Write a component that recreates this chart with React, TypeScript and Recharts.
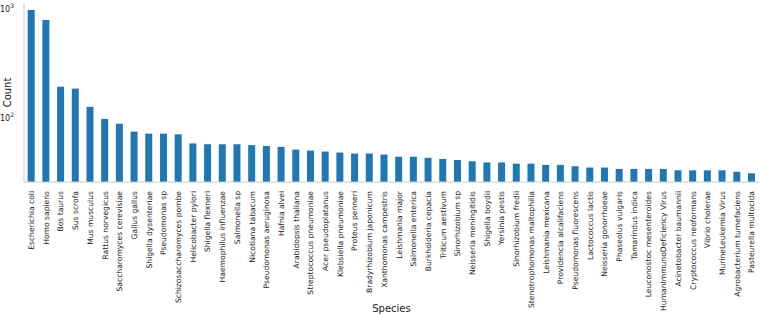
import React from 'react';
import { BarChart, Bar, XAxis, YAxis } from 'recharts';

const species = [
  'Escherichia coli', 'Homo sapiens', 'Bos taurus', 'Sus scrofa', 'Mus musculus',
  'Rattus norvegicus', 'Saccharomyces cerevisiae', 'Gallus gallus', 'Shigella dysenteriae',
  'Pseudomonas sp', 'Schizosaccharomyces pombe', 'Helicobacter pylori', 'Shigella flexneri',
  'Haemophilus influenzae', 'Salmonella sp', 'Nicotiana tabacum', 'Pseudomonas aeruginosa',
  'Hafnia alvei', 'Arabidopsis thaliana', 'Streptococcus pneumoniae', 'Acer pseudoplatanus',
  'Klebsiella pneumoniae', 'Proteus penneri', 'Bradyrhizobium japonicum',
  'Xanthomonas campestris', 'Leishmania major', 'Salmonella enterica', 'Burkholderia cepacia',
  'Triticum aestivum', 'Sinorhizobium sp', 'Neisseria meningitidis', 'Shigella boydii',
  'Yersinia pestis', 'Sinorhizobium fredii', 'Stenotrophomonas maltophilia',
  'Leishmania mexicana', 'Providencia alcalifaciens', 'Pseudomonas fluorescens',
  'Lactococcus lactis', 'Neisseria gonorrhoeae', 'Phaseolus vulgaris', 'Tamarindus indica',
  'Leuconostoc mesenteroides', 'HumanImmunoDeficiency Virus', 'Acinetobacter baumannii',
  'Cryptococcus neoformans', 'Vibrio cholerae', 'MurineLeukemia Virus',
  'Agrobacterium tumefaciens', 'Pasteurella multocida',
];

const counts = [
  869, 711, 187, 180, 125, 98, 89, 76, 73, 73, 72, 60, 59, 59, 59, 58, 57, 56, 53, 52,
  51, 50, 49, 49, 48, 46, 46, 45, 44, 43, 42, 41, 41, 40, 40, 39, 39, 38, 37, 37,
  36, 36, 36, 36, 35, 35, 35, 35, 34, 33,
];

const yTicks = [100, 1000];

const data = species.map((name, i) => ({ name, count: counts[i] }));

const FONT = "'DejaVu Sans', sans-serif";
const SPINE = '#cccccc';
const INK = '#1a1a1a';

const XTick = ({ x, y, payload }: any) => (
  <g transform={`translate(${x}, ${y + 1}) rotate(-90)`}>
    <text
      x={0}
      y={0}
      textAnchor="end"
      dy="0.35em"
      style={{ fontFamily: FONT, fontSize: '7.6px' }}
      fill={INK}
    >
      {payload.value}
    </text>
  </g>
);

const YTick = ({ x, y, payload }: any) => (
  <text x={x - 2} y={y + 3} textAnchor="end" style={{ fontFamily: FONT, fontSize: '8px' }} fill={INK}>
    10
    <tspan dy={-4} style={{ fontSize: '6px' }}>
      {Math.round(Math.log10(payload.value))}
    </tspan>
  </text>
);

export default function App() {
  return (
    <div style={{ position: 'absolute', left: 0, top: 0, background: '#fff' }}>
      <BarChart
        width={761}
        height={314}
        data={data}
        margin={{ top: 3, right: 2, left: 0, bottom: 0 }}
        barCategoryGap="25%"
      >
        <XAxis
          dataKey="name"
          interval={0}
          height={132}
          tickLine={false}
          axisLine={{ stroke: SPINE }}
          tick={<XTick />}
          label={{
            content: ({ viewBox }: any) => (
              <text
                x={viewBox.x + viewBox.width / 2}
                y={308}
                textAnchor="middle"
                dominantBaseline="central"
                style={{ fontFamily: FONT, fontSize: '10px' }}
                fill={INK}
              >
                Species
              </text>
            ),
          }}
        />
        <XAxis xAxisId="top" orientation="top" height={0} tick={false} tickLine={false} axisLine={{ stroke: SPINE }} />
        <YAxis
          scale="log"
          domain={[27.7, 1000]}
          allowDataOverflow
          ticks={yTicks}
          width={24}
          tickLine={false}
          axisLine={{ stroke: SPINE }}
          tick={<YTick />}
          label={{
            content: ({ viewBox }: any) => {
              const cy = viewBox.y + viewBox.height / 2;
              return (
                <text
                  x={7}
                  y={cy}
                  transform={`rotate(-90, 7, ${cy})`}
                  textAnchor="middle"
                  dominantBaseline="central"
                  style={{ fontFamily: FONT, fontSize: '10px' }}
                  fill={INK}
                >
                  Count
                </text>
              );
            },
          }}
        />
        <YAxis yAxisId="right" orientation="right" width={0} tick={false} tickLine={false} axisLine={{ stroke: SPINE }} />
        <Bar dataKey="count" fill="#1f77b4" isAnimationActive={false} />
      </BarChart>
    </div>
  );
}
